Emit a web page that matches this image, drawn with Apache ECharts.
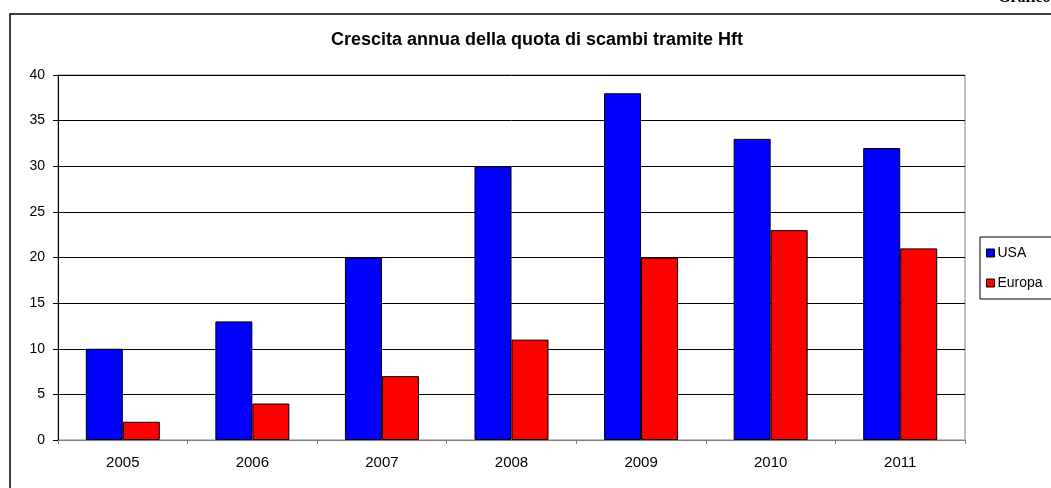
<!DOCTYPE html>
<html><head><meta charset="utf-8">
<script src="https://cdn.jsdelivr.net/npm/echarts@6/dist/echarts.min.js"></script>
<style>html,body{margin:0;padding:0;background:#fff}#c{width:1051px;height:488px}</style>
</head><body><div id="c"></div>
<script>
const categories = ['2005','2006','2007','2008','2009','2010','2011'];
const usaValues = [10,13,20,30,38,33,32];
const europaValues = [2,4,7,11,20,23,21];
const seriesNames = ['USA','Europa'];
const titleText = 'Crescita annua della quota di scambi tramite Hft';

const chart = echarts.init(document.getElementById('c'), null, {renderer:'canvas'});
const font = 'Arial, "Liberation Sans", sans-serif';
chart.setOption({
  animation:false,
  backgroundColor:'#fff',
  textStyle:{fontFamily:font},
  title:{text:titleText,left:331,top:31,padding:0,textStyle:{fontSize:18,fontWeight:'bold',color:'#000',fontFamily:font}},
  graphic:[
    {type:'rect',shape:{x:10,y:14,width:1100,height:520},style:{fill:null,stroke:'#000',lineWidth:1.5},silent:true,z:-1},
    {type:'text',left:998,top:-10,style:{text:'Grafico',font:'bold 16px "Liberation Serif", "DejaVu Serif", serif',fill:'#000'}}
  ],
  legend:{
    orient:'vertical',left:980,top:237,
    padding:[8,40,8,6],
    borderColor:'#000',borderWidth:1,
    itemWidth:8,itemHeight:8,itemGap:14,
    icon:'rect',
    itemStyle:{borderColor:'#000',borderWidth:1},
    textStyle:{fontSize:14,color:'#000',lineHeight:16,fontFamily:font,padding:[0,0,0,-2]},
    data:seriesNames
  },
  grid:{left:58,right:86,top:75,bottom:48,show:true,borderColor:'#808080',borderWidth:1},
  xAxis:{
    type:'category',data:categories,boundaryGap:true,
    axisLine:{lineStyle:{color:'#808080',width:1}},
    axisTick:{show:true,length:4,lineStyle:{color:'#808080'}},
    axisLabel:{fontSize:15,color:'#000',margin:15,fontFamily:font}
  },
  yAxis:{
    type:'value',min:0,max:40,interval:5,
    axisLine:{show:true,lineStyle:{color:'#000',width:1}},
    axisTick:{show:true,length:5,lineStyle:{color:'#000'}},
    axisLabel:{fontSize:14,color:'#000',margin:13,fontFamily:font},
    splitLine:{lineStyle:{color:'#000',width:1}}
  },
  series:[
    {name:seriesNames[0],type:'bar',data:usaValues,barWidth:37,barGap:'0%',
     itemStyle:{color:'#0000ff',borderColor:'#000',borderWidth:1}},
    {name:seriesNames[1],type:'bar',data:europaValues,barWidth:37,barGap:'0%',
     itemStyle:{color:'#ff0000',borderColor:'#000',borderWidth:1}}
  ]
});
</script></body></html>
